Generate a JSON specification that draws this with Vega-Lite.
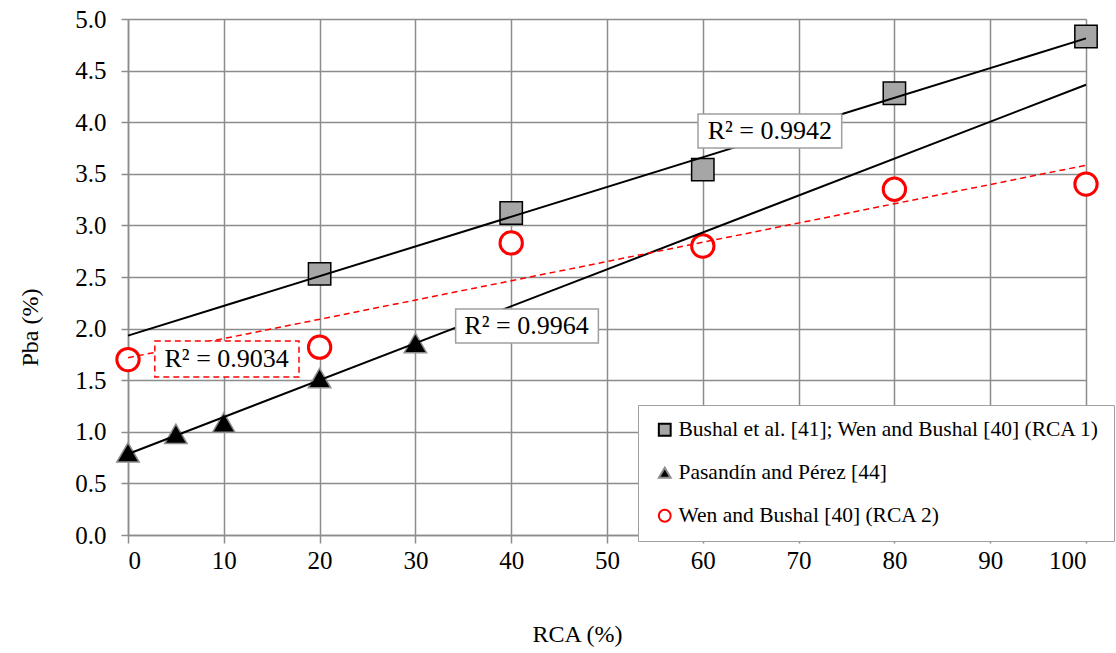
{
  "$schema": "https://vega.github.io/schema/vega-lite/v6.json",
  "width": 958,
  "height": 516,
  "autosize": "none",
  "padding": {"left": 128, "top": 19, "right": 30, "bottom": 118},
  "config": {
    "font": "Liberation Serif",
    "view": {"stroke": null},
    "axis": {
      "labelColor": "black",
      "tickColor": "#8c8c8c",
      "tickWidth": 1.5,
      "domainColor": "#8c8c8c",
      "domainWidth": 1.5,
      "gridColor": "#8c8c8c",
      "gridWidth": 1.5,
      "gridOpacity": 1,
      "titleFontWeight": "normal",
      "titleColor": "black"
    },
    "legend": {
      "orient": "none",
      "legendX": 510,
      "legendY": 386,
      "fillColor": "white",
      "strokeColor": "#a0a0a0",
      "padding": 14,
      "rowPadding": 20,
      "labelFontSize": 21.5,
      "labelFont": "Liberation Serif",
      "labelColor": "black",
      "labelLimit": 600,
      "symbolSize": 140,
      "symbolStrokeWidth": 2,
      "symbolOffset": 2,
      "labelOffset": 3
    }
  },
  "datasets": {
    "points": [
      {"series": "Bushal et al. [41]; Wen and Bushal [40] (RCA 1)", "rca": 20, "pba": 2.53},
      {"series": "Bushal et al. [41]; Wen and Bushal [40] (RCA 1)", "rca": 40, "pba": 3.12},
      {"series": "Bushal et al. [41]; Wen and Bushal [40] (RCA 1)", "rca": 60, "pba": 3.54},
      {"series": "Bushal et al. [41]; Wen and Bushal [40] (RCA 1)", "rca": 80, "pba": 4.28},
      {"series": "Bushal et al. [41]; Wen and Bushal [40] (RCA 1)", "rca": 100, "pba": 4.83},
      {"series": "Pasandín and Pérez [44]", "rca": 0, "pba": 0.8},
      {"series": "Pasandín and Pérez [44]", "rca": 5, "pba": 0.98},
      {"series": "Pasandín and Pérez [44]", "rca": 10, "pba": 1.09},
      {"series": "Pasandín and Pérez [44]", "rca": 20, "pba": 1.52},
      {"series": "Pasandín and Pérez [44]", "rca": 30, "pba": 1.86},
      {"series": "Wen and Bushal [40] (RCA 2)", "rca": 0, "pba": 1.70},
      {"series": "Wen and Bushal [40] (RCA 2)", "rca": 20, "pba": 1.82},
      {"series": "Wen and Bushal [40] (RCA 2)", "rca": 40, "pba": 2.83},
      {"series": "Wen and Bushal [40] (RCA 2)", "rca": 60, "pba": 2.80},
      {"series": "Wen and Bushal [40] (RCA 2)", "rca": 80, "pba": 3.35},
      {"series": "Wen and Bushal [40] (RCA 2)", "rca": 100, "pba": 3.40}
    ],
    "labels": [
      {"text": "R² = 0.9942", "style": "solid", "x": 67.0, "y": 3.915, "xlo": 59.5, "xhi": 74.5, "ylo": 3.75, "yhi": 4.08},
      {"text": "R² = 0.9964", "style": "solid", "x": 41.6, "y": 2.025, "xlo": 34.2, "xhi": 49.1, "ylo": 1.86, "yhi": 2.19},
      {"text": "R² = 0.9034", "style": "dashed", "x": 10.3, "y": 1.705, "xlo": 2.8, "xhi": 17.85, "ylo": 1.53, "yhi": 1.88}
    ]
  },
  "layer": [
    {
      "data": {"name": "points"},
      "mark": {"type": "point", "filled": true, "size": 500, "opacity": 1},
      "encoding": {
        "x": {
          "field": "rca", "type": "quantitative",
          "scale": {"domain": [0, 100], "nice": false},
          "axis": {
            "values": [0, 10, 20, 30, 40, 50, 60, 70, 80, 90, 100],
            "labelFont": "Liberation Serif", "labelFontSize": 25,
            "titleFont": "Liberation Serif", "titleFontSize": 24,
            "tickSize": 8, "labelPadding": 5,
            "title": "RCA (%)", "titleX": 449, "titleY": 99, "titleBaseline": "middle", "titleAnchor": null, "titleAlign": "center"
          }
        },
        "y": {
          "field": "pba", "type": "quantitative",
          "scale": {"domain": [0, 5], "nice": false, "zero": true},
          "axis": {
            "values": [0, 0.5, 1, 1.5, 2, 2.5, 3, 3.5, 4, 4.5, 5],
            "format": ".1f",
            "labelFont": "Liberation Serif", "labelFontSize": 25,
            "titleFont": "Liberation Serif", "titleFontSize": 24,
            "tickSize": 7, "labelPadding": 15,
            "title": "Pba (%)", "titleX": -98, "titleY": 308, "titleBaseline": "middle", "titleAlign": "center", "titleAngle": -90
          }
        },
        "shape": {
          "field": "series", "type": "nominal", "title": null,
          "scale": {
            "domain": ["Bushal et al. [41]; Wen and Bushal [40] (RCA 1)", "Pasandín and Pérez [44]", "Wen and Bushal [40] (RCA 2)"],
            "range": ["square", "triangle-up", "circle"]
          }
        },
        "fill": {
          "field": "series", "type": "nominal", "title": null,
          "scale": {
            "domain": ["Bushal et al. [41]; Wen and Bushal [40] (RCA 1)", "Pasandín and Pérez [44]", "Wen and Bushal [40] (RCA 2)"],
            "range": ["#a6a6a6", "#000000", "#ffffff"]
          }
        },
        "stroke": {
          "field": "series", "type": "nominal", "title": null,
          "scale": {
            "domain": ["Bushal et al. [41]; Wen and Bushal [40] (RCA 1)", "Pasandín and Pérez [44]", "Wen and Bushal [40] (RCA 2)"],
            "range": ["#000000", "#8c8c8c", "#ff0000"]
          }
        },
        "strokeWidth": {
          "condition": {"test": "datum.series === 'Wen and Bushal [40] (RCA 2)'", "value": 3},
          "value": 1.5
        }
      }
    },
    {
      "data": {"name": "points"},
      "transform": [
        {"filter": "datum.series !== 'Wen and Bushal [40] (RCA 2)'"},
        {"regression": "pba", "on": "rca", "groupby": ["series"], "extent": [0, 100]}
      ],
      "mark": {"type": "line", "color": "black", "strokeWidth": 2},
      "encoding": {
        "x": {"field": "rca", "type": "quantitative"},
        "y": {"field": "pba", "type": "quantitative"},
        "detail": {"field": "series", "type": "nominal"}
      }
    },
    {
      "data": {"name": "points"},
      "transform": [
        {"filter": "datum.series === 'Wen and Bushal [40] (RCA 2)'"},
        {"regression": "pba", "on": "rca", "extent": [0, 100]}
      ],
      "mark": {"type": "line", "color": "#ff0000", "strokeWidth": 1.5, "strokeDash": [6, 4]},
      "encoding": {
        "x": {"field": "rca", "type": "quantitative"},
        "y": {"field": "pba", "type": "quantitative"}
      }
    },
    {
      "data": {"name": "labels"},
      "transform": [{"filter": "datum.style === 'solid'"}],
      "mark": {"type": "rect", "fill": "white", "stroke": "#a0a0a0", "strokeWidth": 1.5},
      "encoding": {
        "x": {"field": "xlo", "type": "quantitative"},
        "x2": {"field": "xhi"},
        "y": {"field": "ylo", "type": "quantitative"},
        "y2": {"field": "yhi"}
      }
    },
    {
      "data": {"name": "labels"},
      "transform": [{"filter": "datum.style === 'dashed'"}],
      "mark": {"type": "rect", "fill": "white", "stroke": "#ff0000", "strokeWidth": 1.5, "strokeDash": [6, 4]},
      "encoding": {
        "x": {"field": "xlo", "type": "quantitative"},
        "x2": {"field": "xhi"},
        "y": {"field": "ylo", "type": "quantitative"},
        "y2": {"field": "yhi"}
      }
    },
    {
      "data": {"name": "labels"},
      "mark": {"type": "text", "fontSize": 26, "font": "Liberation Serif", "color": "black", "align": "center", "baseline": "middle"},
      "encoding": {
        "x": {"field": "x", "type": "quantitative"},
        "y": {"field": "y", "type": "quantitative"},
        "text": {"field": "text", "type": "nominal"}
      }
    }
  ]
}
